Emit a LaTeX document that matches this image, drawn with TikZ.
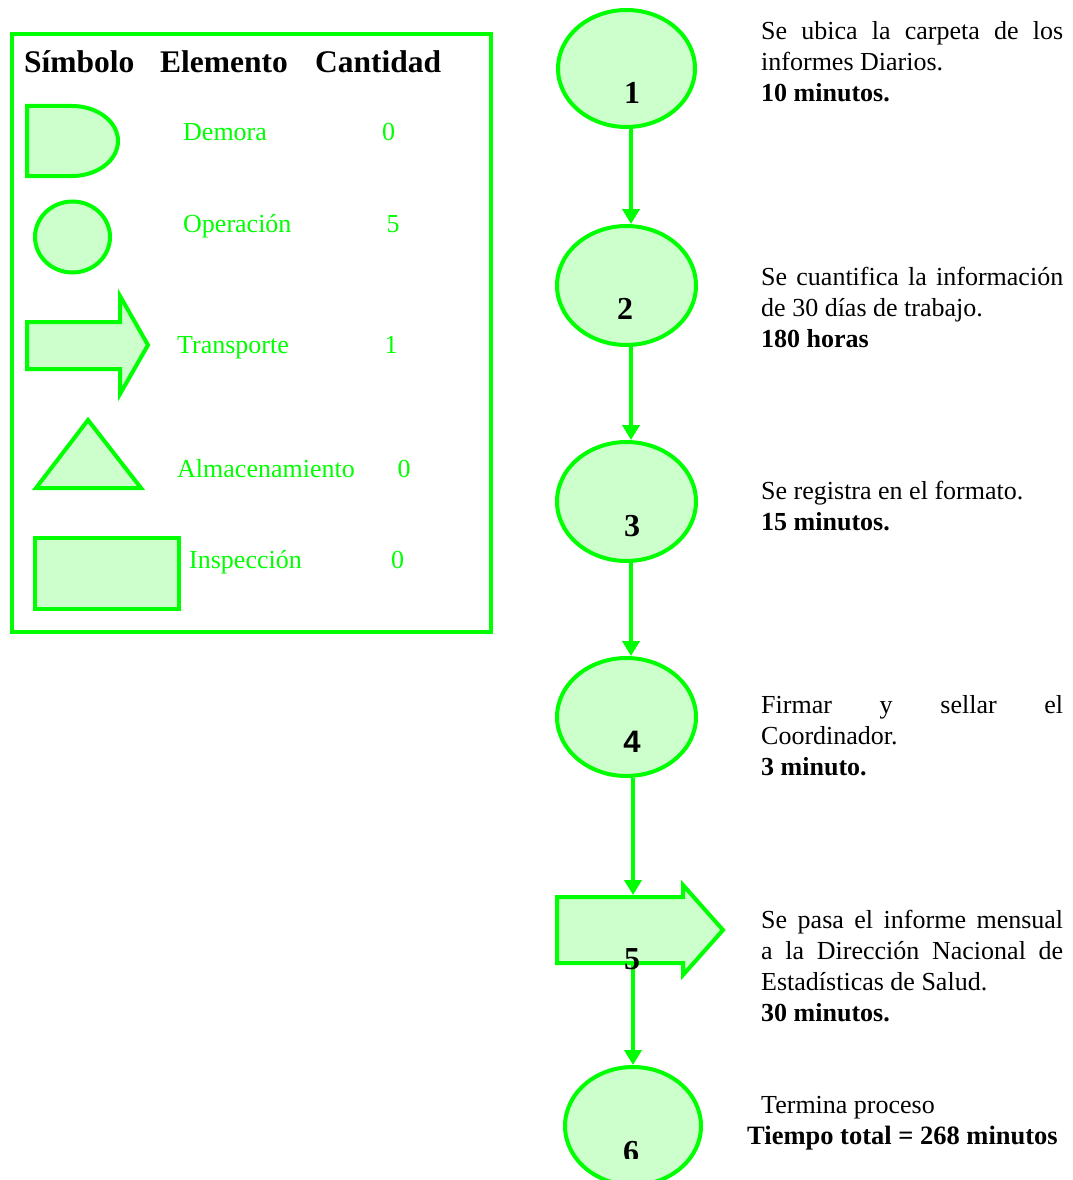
\documentclass[tikz,border=0pt]{standalone}
\usepackage{fontspec}
\setmainfont{Liberation Serif}
\newfontfamily\numsans{Liberation Sans}
\usetikzlibrary{arrows.meta,shapes.geometric}

\definecolor{flowgreen}{RGB}{0,255,0}
\definecolor{flowfill}{RGB}{204,255,204}

% a block of text lines, first baseline on the node's base anchor
\newcommand{\textlines}[1]{\vtop{\baselineskip=31pt\relax #1}}
\newcommand{\jline}[1]{\hbox{\makebox[302pt][s]{#1}}}

\tikzset{
  sym/.style={draw=flowgreen, fill=flowfill, line width=4pt, line join=miter},
  opnode/.style={ellipse, sym, inner sep=0pt},
  flow/.style={draw=flowgreen, line width=4pt, -{Triangle[width=17pt,length=15pt]}},
  legtext/.style={anchor=base west, inner sep=0pt, text=flowgreen, font=\fontsize{26pt}{31pt}\selectfont},
  legnum/.style={anchor=base, inner sep=0pt, text=flowgreen, font=\fontsize{26pt}{31pt}\selectfont},
  headtext/.style={anchor=base west, inner sep=0pt, font=\fontsize{31.5pt}{36pt}\selectfont\bfseries},
  desc/.style={anchor=base west, inner sep=0pt, font=\fontsize{26pt}{31pt}\selectfont},
  stepnum/.style={anchor=base, inner sep=0pt, font=\fontsize{32pt}{36pt}\selectfont\bfseries},
}

\begin{document}
\begin{tikzpicture}[x=1pt,y=-1pt]
\useasboundingbox (0,0) rectangle (1072,1180);

% ---------------- legend ----------------
\draw[draw=flowgreen, line width=4pt] (12,34) rectangle (490.5,632);

\node[headtext] (hsym) at (24,73) {Símbolo};
\node[headtext] (helem) at (160,73) {Elemento};
\node[headtext] (hcant) at (315,73) {Cantidad};

% delay symbol
\draw[sym] (27,106) -- (72,106) arc[start angle=-90, end angle=90, x radius=46, y radius=35] -- (27,176) -- cycle;
\node[legtext] (ldem) at (183,140) {Demora};
\node[legnum] (ndem) at (388.5,140) {0};

% operation symbol
\draw[sym] (72.5,237) ellipse[x radius=37.5, y radius=35.5];
\node[legtext] (lope) at (183,232) {Operación};
\node[legnum] (nope) at (393,232) {5};

% transport symbol
\draw[sym] (27,322) -- (120,322) -- (120,296) -- (148,345) -- (120,394) -- (120,369) -- (27,369) -- cycle;
\node[legtext] (ltra) at (177,353) {Transporte};
\node[legnum] (ntra) at (391,353) {1};

% storage symbol
\draw[sym] (88,420) -- (141,488) -- (36,488) -- cycle;
\node[legtext] (lalm) at (177,477) {Almacenamiento};
\node[legnum] (nalm) at (404,477) {0};

% inspection symbol
\draw[sym] (35,538) rectangle (179,609);
\node[legtext] (lins) at (189,568) {Inspección};
\node[legnum] (nins) at (397.5,568) {0};

% ---------------- process flow ----------------
\node[opnode, minimum width=137pt, minimum height=117pt] (c1) at (626.5,68.5) {};
\node[opnode, minimum width=139pt, minimum height=119pt] (c2) at (626.5,285.5) {};
\node[opnode, minimum width=139pt, minimum height=119pt] (c3) at (626.5,501.5) {};
\node[opnode, minimum width=139pt, minimum height=118pt] (c4) at (626.5,717) {};
\node[opnode, minimum width=136pt, minimum height=118pt] (c6) at (633,1126) {};

% transport step
\draw[sym] (557,897) -- (683,897) -- (683,885) -- (723,930) -- (683,975) -- (683,963) -- (557,963) -- cycle;
\coordinate (t5in) at (633,895);
\coordinate (t5out) at (633,965);

% connectors
\coordinate (axisA) at (631,0);
\coordinate (axisB) at (633,0);
\draw[flow] (c1.south -| axisA) -- (c2.north -| axisA);
\draw[flow] (c2.south -| axisA) -- (c3.north -| axisA);
\draw[flow] (c3.south -| axisA) -- (c4.north -| axisA);
\draw[flow] (c4.south -| axisB) -- (t5in);
\draw[flow] (t5out) -- (c6.north -| axisB);

% step numbers
\node[stepnum] (n1) at (632,104) {1};
\node[stepnum] (n2) at (625,319) {2};
\node[stepnum] (n3) at (632,536) {3};
\node[stepnum, font=\fontsize{31pt}{36pt}\selectfont\numsans\bfseries] (n4) at (632,752) {4};
\node[stepnum] (n5) at (632,969) {5};
\begin{scope}
  \clip (560,1000) rectangle (710,1158);
  \node[stepnum] (n6) at (631,1162) {6};
\end{scope}

% step descriptions
\node[desc] (d1) at (761,40) {\textlines{%
  \jline{Se ubica la carpeta de los}
  \hbox{informes Diarios.}
  \hbox{\bfseries 10 minutos.}}};
\node[desc] (d2) at (761,285) {\textlines{%
  \jline{Se cuantifica la información}
  \hbox{de 30 días de trabajo.}
  \hbox{\bfseries 180 horas}}};
\node[desc] (d3) at (761,499) {\textlines{%
  \hbox{Se registra en el formato.}
  \hbox{\bfseries 15 minutos.}}};
\node[desc] (d4) at (761,713) {\textlines{%
  \jline{Firmar y sellar el}
  \hbox{Coordinador.}
  \hbox{\bfseries 3 minuto.}}};
\node[desc] (d5) at (761,928) {\textlines{%
  \jline{Se pasa el informe mensual}
  \jline{a la Dirección Nacional de}
  \hbox{Estadísticas de Salud.}
  \hbox{\bfseries 30 minutos.}}};
\node[desc] (d6a) at (761,1113) {Termina proceso};
\node[desc, font=\fontsize{26.5pt}{31pt}\selectfont\bfseries] (d6b) at (747,1144) {Tiempo total = 268 minutos};

\end{tikzpicture}
\end{document}
